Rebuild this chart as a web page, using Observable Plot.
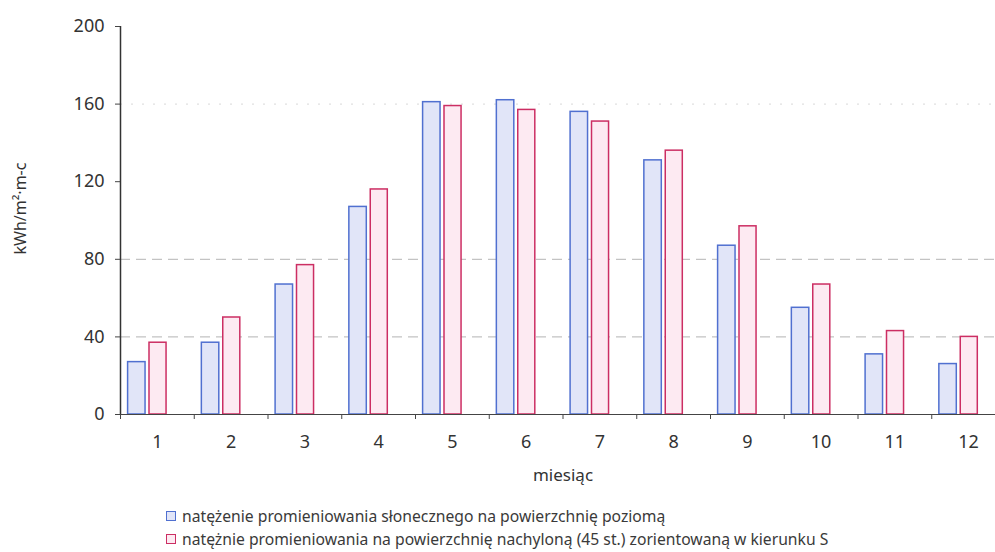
<!DOCTYPE html>
<html>
<head>
<meta charset="utf-8">
<script src="https://cdn.jsdelivr.net/npm/d3@7"></script>
<script src="https://cdn.jsdelivr.net/npm/@observablehq/plot@0.6"></script>
<style>
  body { margin: 0; background: #fff; font-family: "Noto Sans", sans-serif; }
  #chart { position: relative; width: 995px; height: 552px; overflow: hidden; }
  .legend { position: absolute; left: 166px; top: 505px; font-size: 15.7px; color: #3a3a3a; line-height: 23px; white-space: nowrap; }
  .legend .sw { display: inline-block; width: 8px; height: 8px; border: 1px solid; margin-right: 6px; vertical-align: 1px; }
</style>
</head>
<body>
<div id="chart"></div>
<script>
// Monthly solar irradiation, kWh/m² per month
const months = [1, 2, 3, 4, 5, 6, 7, 8, 9, 10, 11, 12];
const horizontal = [27, 37, 67, 107, 161, 162, 156, 131, 87, 55, 31, 26];
const tilted = [37, 50, 77, 116, 159, 157, 151, 136, 97, 67, 43, 40];
const seriesNames = [
  "natężenie promieniowania słonecznego na powierzchnię poziomą",
  "natężnie promieniowania na powierzchnię nachyloną (45 st.) zorientowaną w kierunku S"
];
const yTicks = [0, 40, 80, 120, 160, 200];
const yLabel = "kWh/m²·m-c";
const xLabel = "miesiąc";

const colors = {
  horizontal: { fill: "#e1e5f8", stroke: "#5070d0" },
  tilted: { fill: "#fdeaf2", stroke: "#cc2e63" }
};

const rowsH = months.map((m, i) => ({ month: m, value: horizontal[i] }));
const rowsT = months.map((m, i) => ({ month: m, value: tilted[i] }));
const boundaries = [0.5, ...months.map(m => m + 0.5)];

const font = "Noto Sans, sans-serif";

const chart = Plot.plot({
  width: 995,
  height: 492,
  marginLeft: 120,
  marginRight: -10,
  marginTop: 26,
  marginBottom: 78,
  style: { fontFamily: font, color: "#333", background: "#fff" },
  x: { type: "linear", domain: [0.5, 12.5] },
  y: { domain: [0, 200] },
  marks: [
    // dashed grid lines: strong at 40 and 80, faint dotted at 160
    Plot.ruleY(yTicks.filter(t => t > 0 && t <= 80), { stroke: "#9a9a9a", strokeDasharray: "10,6", strokeOpacity: 0.75 }),
    Plot.ruleY(yTicks.filter(t => t > 120 && t < 200), { stroke: "#c8c8c8", strokeDasharray: "2,9", strokeOpacity: 0.7 }),
    // bars
    Plot.rectY(rowsH, {
      x1: d => d.month - 0.5, x2: d => d.month + 0.5, y: "value",
      insetLeft: 7.6, insetRight: 48.7,
      fill: colors.horizontal.fill, stroke: colors.horizontal.stroke, strokeWidth: 1.5
    }),
    Plot.rectY(rowsT, {
      x1: d => d.month - 0.5, x2: d => d.month + 0.5, y: "value",
      insetLeft: 29, insetRight: 27.7,
      fill: colors.tilted.fill, stroke: colors.tilted.stroke, strokeWidth: 1.5
    }),
    // axis lines
    Plot.ruleY([0], { stroke: "#444", strokeWidth: 1.2 }),
    Plot.ruleX([0.5], { y1: 0, y2: 200, stroke: "#333", strokeWidth: 1.5 }),
    // x axis: boundary ticks and centred month labels
    Plot.axisX({ ticks: boundaries, tickSize: 5, tickFormat: () => "", stroke: "#444", label: null }),
    Plot.axisX({ ticks: months, tickSize: 0, tickPadding: 21, fontSize: 18, fill: "#333", label: null }),
    // y axis
    Plot.axisY({ ticks: yTicks, tickSize: 5, tickPadding: 11, fontSize: 18, fill: "#333", stroke: "#444", label: null }),
    Plot.text([yLabel], { text: d => d, frameAnchor: "left", textAnchor: "middle", dx: -100, dy: -12, rotate: -90, fontSize: 16, fill: "#333" }),
    Plot.text([xLabel], { text: d => d, frameAnchor: "bottom", lineAnchor: "middle", dy: 61, fontSize: 17, fill: "#333" })
  ]
});

const root = document.getElementById("chart");
root.appendChild(chart);

const legend = document.createElement("div");
legend.className = "legend";
const keys = ["horizontal", "tilted"];
seriesNames.forEach((name, i) => {
  const row = document.createElement("div");
  const sw = document.createElement("span");
  sw.className = "sw";
  sw.style.background = colors[keys[i]].fill;
  sw.style.borderColor = colors[keys[i]].stroke;
  row.appendChild(sw);
  row.appendChild(document.createTextNode(name));
  legend.appendChild(row);
});
root.appendChild(legend);
</script>
</body>
</html>
